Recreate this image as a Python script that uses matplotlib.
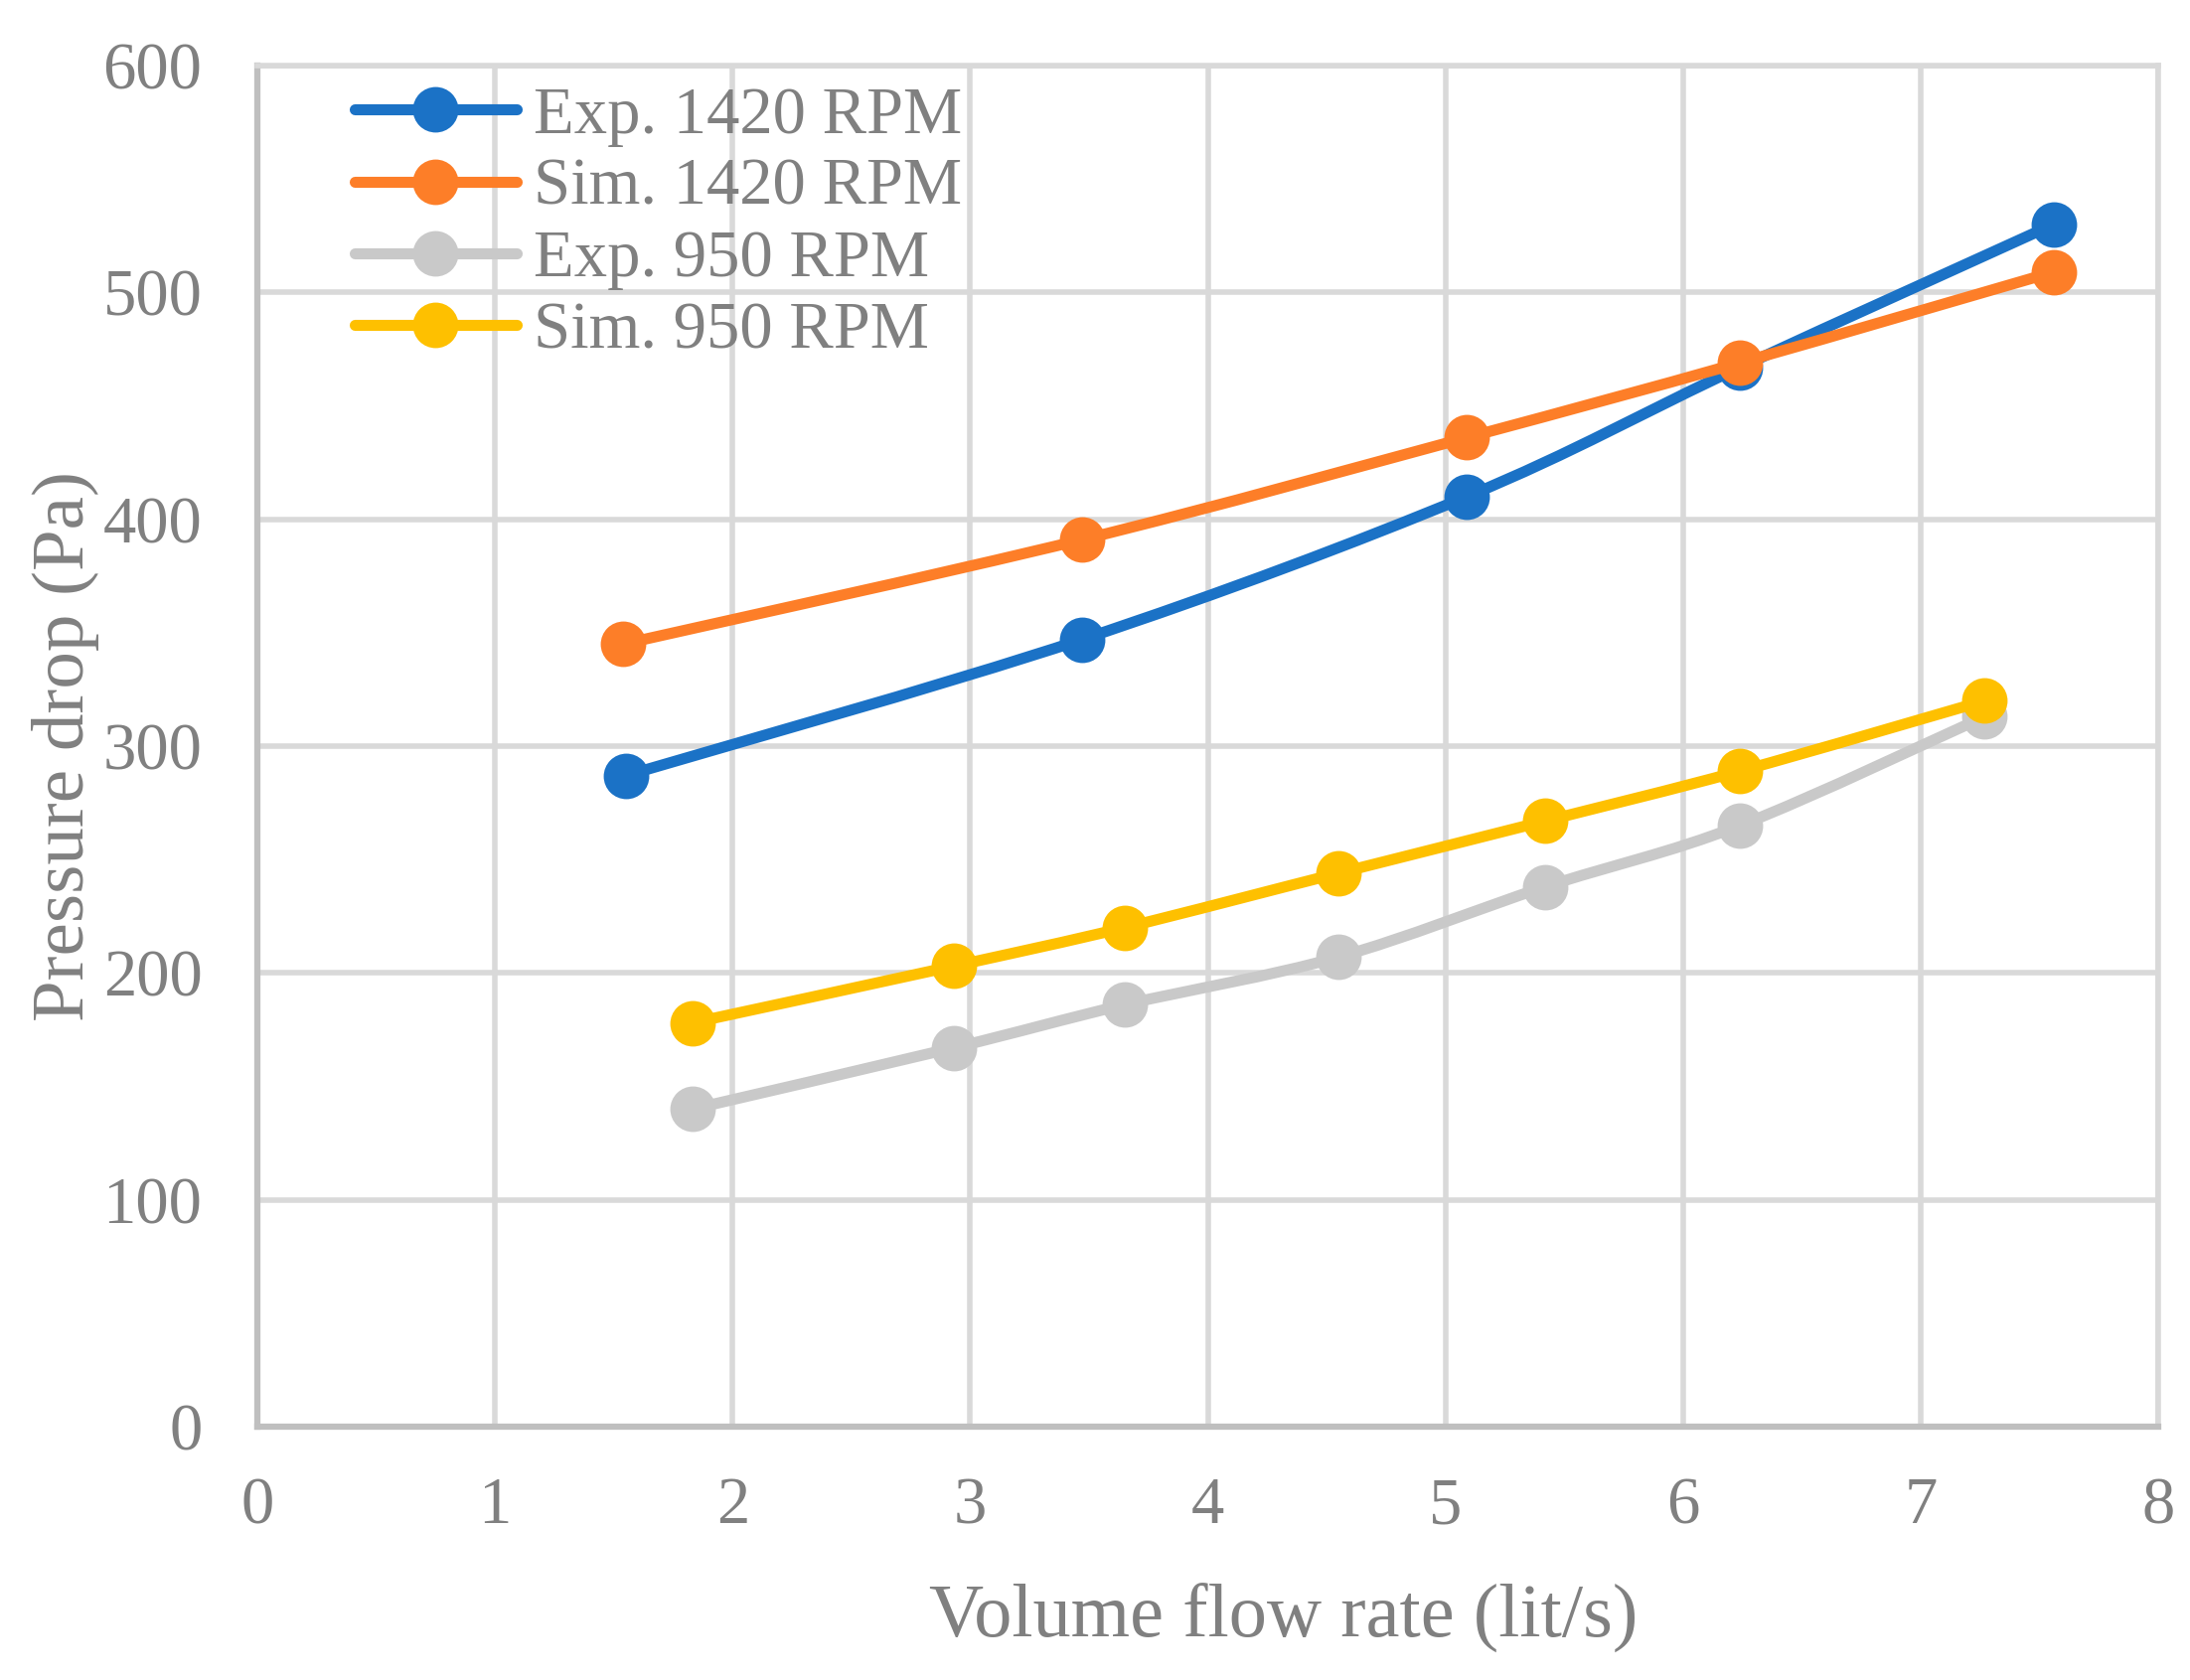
import numpy as np
import matplotlib.pyplot as plt
from matplotlib.path import Path
from matplotlib.patches import PathPatch
from matplotlib.lines import Line2D

# data
exp_1420_x = [1.55, 3.47, 5.09, 6.24, 7.56]
exp_1420_y = [287, 347, 410, 467, 530]
sim_1420_x = [1.54, 3.47, 5.09, 6.24, 7.56]
sim_1420_y = [345, 391, 436, 469, 509]
exp_950_x = [1.83, 2.93, 3.65, 4.55, 5.42, 6.24, 7.27]
exp_950_y = [140, 167, 186, 207, 238, 265, 313]
sim_950_x = [1.83, 2.93, 3.65, 4.55, 5.42, 6.24, 7.27]
sim_950_y = [178, 203, 220, 244, 267, 289, 320]

series = [
    ('Exp. 1420 RPM', exp_1420_x, exp_1420_y, '#1B72C6'),
    ('Sim. 1420 RPM', sim_1420_x, sim_1420_y, '#FD7E28'),
    ('Exp. 950 RPM', exp_950_x, exp_950_y, '#C9C9C9'),
    ('Sim. 950 RPM', sim_950_x, sim_950_y, '#FEC000'),
]

TEXT = '#808080'
GRID = '#D9D9D9'
LW = 8.0
MS = 33

plt.rcParams['font.family'] = ['Liberation Serif', 'DejaVu Serif']


def smooth_path(x, y):
    """Excel-like smoothed line as cubic Bezier segments (Catmull-Rom)."""
    p = np.column_stack([x, y]).astype(float)
    verts = [p[0]]
    codes = [Path.MOVETO]
    n = len(p)
    for i in range(n - 1):
        p0 = p[i - 1] if i > 0 else p[i]
        p3 = p[i + 2] if i + 2 < n else p[i + 1]
        c1 = p[i] + (p[i + 1] - p0) / 6.0
        c2 = p[i + 1] - (p3 - p[i]) / 6.0
        verts += [c1, c2, p[i + 1]]
        codes += [Path.CURVE4] * 3
    return Path(verts, codes)


fig = plt.figure(figsize=(22.04, 16.91), dpi=100)
ax = fig.add_axes([259 / 2204, 1 - 1436 / 1691, (2172 - 259) / 2204, (1436 - 66) / 1691])

handles = []
for i, (label, xs, ys, color) in enumerate(series):
    patch = PathPatch(smooth_path(xs, ys), facecolor='none', edgecolor=color,
                      lw=LW, capstyle='round', joinstyle='round', zorder=3 + 2 * i)
    ax.add_patch(patch)
    ax.plot(xs, ys, linestyle='none', marker='o', ms=MS, color=color,
            markeredgewidth=0, zorder=4 + 2 * i)
    handles.append(Line2D([], [], color=color, lw=LW, marker='o', ms=MS,
                          markeredgewidth=0, solid_capstyle='round', label=label))

ax.set_xlim(0, 8)
ax.set_ylim(0, 600)
ax.set_xticks(range(0, 9))
ax.set_yticks(range(0, 601, 100))
ax.grid(True, color=GRID, lw=4, zorder=0)
ax.set_axisbelow(True)
ax.tick_params(length=0, labelsize=48, labelcolor=TEXT)
ax.tick_params(axis='x', pad=36)
ax.tick_params(axis='y', pad=40)

for side in ['top', 'right']:
    ax.spines[side].set_color(GRID)
    ax.spines[side].set_linewidth(4)
for side in ['left', 'bottom']:
    ax.spines[side].set_color('#BFBFBF')
    ax.spines[side].set_linewidth(4.5)

ax.set_xlabel('Volume flow rate (lit/s)', fontsize=55, color=TEXT)
ax.set_ylabel('Pressure drop (Pa)', fontsize=54, color=TEXT)
ax.xaxis.label.set_va('center')
ax.yaxis.label.set_va('center')
ax.xaxis.set_label_coords(0.54, -0.141)
ax.yaxis.set_label_coords(-0.101, 0.5)

leg = ax.legend(handles=handles, loc='upper left', bbox_to_anchor=(0.051, 0.985),
                frameon=False, fontsize=48, handlelength=2.45, handletextpad=0.25,
                labelspacing=0.17, borderpad=0, borderaxespad=0)
for t in leg.get_texts():
    t.set_color(TEXT)

fig.savefig('out.png', dpi=100)
